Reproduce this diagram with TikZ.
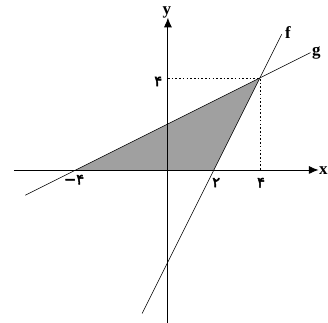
\documentclass[tikz,border=0pt]{standalone}
\usepackage{fontspec}
\setmainfont{Liberation Serif}
\newfontfamily\fadigits[FakeBold=3]{DejaVu Sans}
\usetikzlibrary{arrows.meta, positioning, calc}
\definecolor{c1}{HTML}{000000}
\definecolor{regionfill}{HTML}{A0A0A0}

\begin{document}
\begin{tikzpicture}[
    every node/.style={font=\fontsize{21}{21}\selectfont\bfseries},
    axis/.style={line width=1.1pt, color=c1, -{Latex[length=12pt, width=10pt]}},
    graph/.style={line width=0.7pt, color=c1},
    guide/.style={line width=0.7pt, color=c1, dash pattern=on 2pt off 2.6pt},
    num/.style={font=\fadigits\fontsize{18}{18}\selectfont, inner sep=1pt},
]
\useasboundingbox (-7.30, -6.61) rectangle (6.96, 7.39);

% ================================================ points
\coordinate (O) at (0, 0);
\coordinate (A) at (-4, 0);
\coordinate (B) at (2, 0);
\coordinate (C) at (4, 4);
\coordinate (Cy) at (0, 4);
\coordinate (Cx) at (4, 0);

% the feasible region
\fill[regionfill] (A) -- (B) -- (C) -- cycle;

% ================================================ axes
\coordinate (xs) at (-6.70, 0);
\coordinate (xe) at (6.55, 0);
\coordinate (ys) at (0, -6.70);
\coordinate (ye) at (0, 6.62);
\draw[axis] (xs) -- (xe);
\draw[axis] (ys) -- (ye);
\node[anchor=west, inner sep=0pt] (xl) at (6.57, -0.02) {x};
\node (yl) at (-0.05, 6.85) {y};

% ================================================ the two lines
\coordinate (f1) at (-1.12, -6.24);
\coordinate (f2) at (4.95, 5.90);
\coordinate (g1) at (-6.20, -1.10);
\coordinate (g2) at (6.20, 5.10);
\draw[graph] (f1) -- (f2);
\draw[graph] (g1) -- (g2);
\node (fl) at (5.22, 5.98) {f};
\node (gl) at (6.45, 5.08) {g};

% dashed guides to the corner
\draw[guide] (Cy) -- (C) -- (Cx);

% ================================================ tick labels
\node[num] (t4y) at (-0.42, 3.85) {۴};
\node[num] (tm4) at (-4.08, -0.42) {−۴};
\node[num] (t2) at (2.10, -0.55) {۲};
\node[num] (t4x) at (4.05, -0.55) {۴};

\end{tikzpicture}
\end{document}
